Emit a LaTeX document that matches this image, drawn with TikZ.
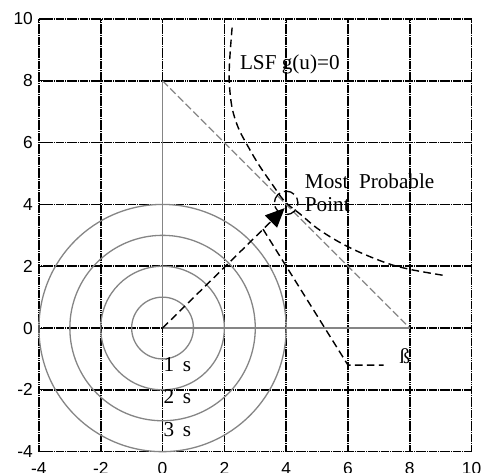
\documentclass[tikz,border=0pt]{standalone}
\usepackage{fontspec}
\setmainfont{Liberation Serif}
\newfontfamily\axisfont{Liberation Sans}
\usetikzlibrary{arrows.meta}
\definecolor{cgray}{HTML}{858585}
\tikzset{
  gridline/.style={black, line width=1.4pt, dash pattern=on 1.4pt off 0.3pt},
  tickmark/.style={black, line width=1pt},
  ringline/.style={cgray, line width=1.2pt},
  grayaxis/.style={cgray, line width=1.2pt},
  graydash/.style={cgray, line width=1.2pt, dash pattern=on 7pt off 3pt},
  blackdash/.style={black, line width=1.3pt, dash pattern=on 7pt off 4pt},
  ticklabel/.style={font=\axisfont\fontsize{16}{18}\selectfont, inner sep=0pt},
  label/.style={font=\fontsize{19.5}{21.5}\selectfont, inner sep=0pt, align=left}
}
\begin{document}
\begin{tikzpicture}[x=1cm,y=1cm]
\useasboundingbox (-5.26,-4.69) rectangle (10.66,10.615);
% grid
\foreach \v in {-4,-2,...,10} {
  \draw[gridline] (\v,-4) -- (\v,10);
  \draw[gridline] (-4,\v) -- (10,\v);
  \draw[tickmark] (\v,-4) -- (\v,-3.87);
  \draw[tickmark] (\v,10) -- (\v,9.87);
  \draw[tickmark] (-4,\v) -- (-3.87,\v);
  \draw[tickmark] (10,\v) -- (9.87,\v);
}
% tick labels
\foreach \v in {-4,-2,...,10} {
  \node[ticklabel, anchor=east] (yl\v) at (-4.19,\v) {\v};
  \node[ticklabel, anchor=north] (xl\v) at (\v,-4.33) {\v};
}
% named points
\coordinate (O) at (0,0);
\coordinate (Ax) at (8,0);
\coordinate (Ay) at (0,8);
\coordinate (tip) at (3.95,3.88);
\coordinate (mpp) at (4,4.05);
\coordinate (lstart) at (3.25,3.2);
\coordinate (lknee) at (6,-1.2);
\coordinate (lend) at (7.15,-1.2);
% gray rings
\foreach \r in {1,2,3,4} {
  \draw[ringline] (O) circle (\r);
}
% gray triangle
\draw[grayaxis] (O) -- (Ax);
\draw[grayaxis] (O) -- (Ay);
\draw[graydash] (Ay) -- (Ax);
% limit state curve
\draw[blackdash] plot[smooth, tension=0.6] coordinates {
  (2.25,9.72) (2.17,8.64) (2.16,7.94) (2.25,7.13) (2.45,6.48) (2.73,5.94)
  (3.11,5.29) (3.55,4.65) (3.95,4.1) (4.45,3.69) (5.1,3.16) (6.06,2.6)
  (7.2,2.12) (8.0,1.9) (9.06,1.71)};
% reliability index arrow
\draw[blackdash, -{Triangle[length=0.62cm, width=0.55cm]}] (O) -- (tip);
% most probable point marker
\draw[black, line width=1.2pt, dash pattern=on 10pt off 4pt, dash phase=5pt] (mpp) circle (0.38);
% beta leader
\draw[blackdash] (lstart) -- (lknee) -- (lend);
% labels
\node[label, anchor=west] (lsf) at (2.5,8.54) {LSF g(u)=0};
\node[label, anchor=west] (mpt) at (4.6,4.76) {Most\ \ Probable};
\node[label, anchor=west] (pt) at (4.6,4.0) {Point};
\node[label] (beta) at (7.84,-0.9) {ß};
\node[label, anchor=west] (s1) at (0.03,-1.17) {1\hspace{0.4em}s};
\node[label, anchor=west] (s2) at (0.03,-2.23) {2\hspace{0.4em}s};
\node[label, anchor=west] (s3) at (0.03,-3.3) {3\hspace{0.4em}s};
\end{tikzpicture}
\end{document}
